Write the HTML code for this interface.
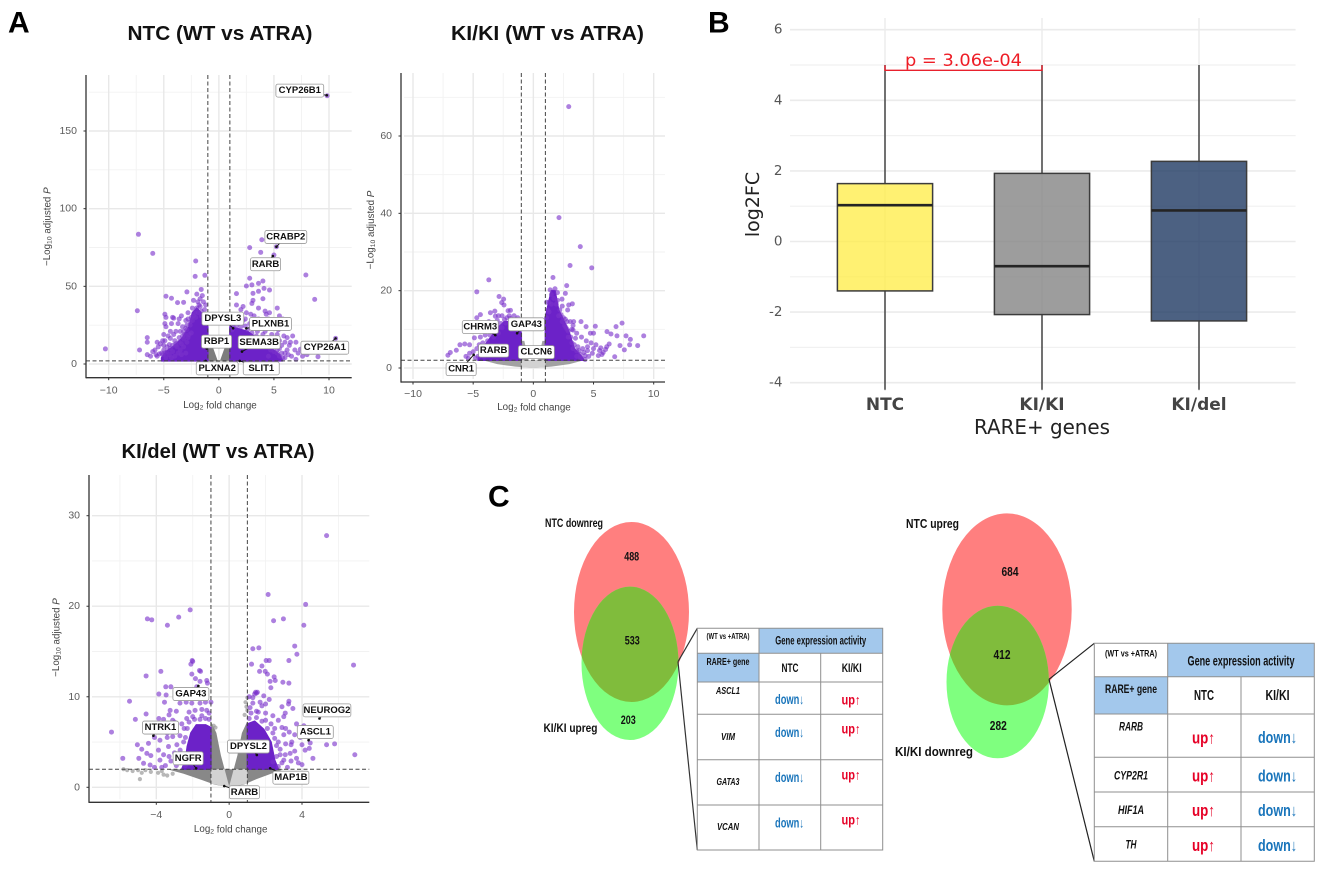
<!DOCTYPE html>
<html lang="en">
<head>
<meta charset="utf-8">
<title>RARE+ gene expression figure</title>
<style>
html,body{margin:0;padding:0;background:#fff;}
svg{display:block;font-family:"Liberation Sans",Arial,sans-serif;filter:blur(0.35px);}
text{dominant-baseline:central;}
.th{font-weight:bold;fill:#111;text-anchor:middle;}
.gene{font-weight:bold;font-style:italic;fill:#111;text-anchor:middle;}
.dn{font-weight:bold;fill:#1a75bb;text-anchor:middle;}
.up{font-weight:bold;fill:#e60026;text-anchor:middle;}
.vn{font-weight:bold;fill:#111;text-anchor:middle;}
.cellline{stroke:#8f8f8f;stroke-width:1;fill:none;}
</style>
</head>
<body>
<svg id="figure" xmlns="http://www.w3.org/2000/svg" width="1325" height="870" viewBox="0 0 1325 870">
  <defs>
    <clipPath id="clip-left-red"><ellipse cx="631.5" cy="612" rx="57.5" ry="90"/></clipPath>
    <clipPath id="clip-right-red"><ellipse cx="1007" cy="609.4" rx="64.7" ry="96"/></clipPath>
  </defs>
  <rect x="0" y="0" width="1325" height="870" fill="#fff"/>

  <text x="8" y="23" font-size="30" font-weight="bold" fill="#000">A</text>
  <text x="708" y="23" font-size="30" font-weight="bold" fill="#000">B</text>
  <text x="488" y="497" font-size="30" font-weight="bold" fill="#000">C</text>

  <text x="220" y="34" font-size="20" font-weight="bold" text-anchor="middle" fill="#111" textLength="185" lengthAdjust="spacingAndGlyphs">NTC (WT vs ATRA)</text>
  <text x="547.5" y="34" font-size="20" font-weight="bold" text-anchor="middle" fill="#111" textLength="193" lengthAdjust="spacingAndGlyphs">KI/KI (WT vs ATRA)</text>
  <text x="218" y="452" font-size="20" font-weight="bold" text-anchor="middle" fill="#111" textLength="193" lengthAdjust="spacingAndGlyphs">KI/del (WT vs ATRA)</text>

  <g id="volcano-ntc"></g>
  <g id="volcano-kiki"></g>
  <g id="volcano-kidel"></g>
  <g id="boxplot"></g>

  <!-- Left Venn -->
  <g>
    <ellipse cx="631.5" cy="612" rx="57.5" ry="90" fill="#ff7f7f"/>
    <ellipse cx="630" cy="663.3" rx="48.5" ry="76.7" fill="#7fff7f"/>
    <ellipse cx="630" cy="663.3" rx="48.5" ry="76.7" fill="#80bc3c" clip-path="url(#clip-left-red)"/>
    <text x="574" y="523" font-size="12" class="vn" textLength="58" lengthAdjust="spacingAndGlyphs">NTC downreg</text>
    <text x="570.5" y="728" font-size="12" class="vn" textLength="54" lengthAdjust="spacingAndGlyphs">KI/KI upreg</text>
    <text x="631.7" y="556.7" font-size="12" class="vn" textLength="15" lengthAdjust="spacingAndGlyphs">488</text>
    <text x="632.3" y="640.7" font-size="12" class="vn" textLength="15" lengthAdjust="spacingAndGlyphs">533</text>
    <text x="628.3" y="720" font-size="12" class="vn" textLength="15" lengthAdjust="spacingAndGlyphs">203</text>
  </g>
  <path d="M678 661.7 L697.3 628.3 M678 661.7 L697.3 850" stroke="#333" stroke-width="1.2" fill="none"/>

  <!-- Left table -->
  <g>
    <rect x="759" y="628.3" width="123.7" height="25" fill="#a3c8ec"/>
    <rect x="697.3" y="653.3" width="61.7" height="28.7" fill="#a3c8ec"/>
    <path class="cellline" d="M697.3 628.3H882.7V850H697.3ZM697.3 653.3H882.7M697.3 682H882.7M697.3 714.3H882.7M697.3 759.7H882.7M697.3 805H882.7M759 628.3V850M820.7 653.3V850"/>
    <text x="728" y="636.7" font-size="8" class="th" textLength="43" lengthAdjust="spacingAndGlyphs">(WT vs +ATRA)</text>
    <text x="820.7" y="641.3" font-size="11.5" class="th" textLength="91" lengthAdjust="spacingAndGlyphs">Gene expression activity</text>
    <text x="728" y="662.7" font-size="10" class="th" textLength="43" lengthAdjust="spacingAndGlyphs">RARE+ gene</text>
    <text x="790" y="668" font-size="12" class="th" textLength="17" lengthAdjust="spacingAndGlyphs">NTC</text>
    <text x="851.7" y="668" font-size="12" class="th" textLength="20" lengthAdjust="spacingAndGlyphs">KI/KI</text>

    <text x="728" y="691.3" font-size="10" class="gene" textLength="24" lengthAdjust="spacingAndGlyphs">ASCL1</text>
    <text x="789.5" y="699.3" font-size="13.5" class="dn" textLength="29" lengthAdjust="spacingAndGlyphs">down↓</text>
    <text x="851" y="700" font-size="13.5" class="up" textLength="19" lengthAdjust="spacingAndGlyphs">up↑</text>
    <text x="728" y="737.3" font-size="10" class="gene" textLength="14" lengthAdjust="spacingAndGlyphs">VIM</text>
    <text x="789.5" y="732.3" font-size="13.5" class="dn" textLength="29" lengthAdjust="spacingAndGlyphs">down↓</text>
    <text x="851" y="729" font-size="13.5" class="up" textLength="19" lengthAdjust="spacingAndGlyphs">up↑</text>
    <text x="728" y="782.7" font-size="10" class="gene" textLength="23" lengthAdjust="spacingAndGlyphs">GATA3</text>
    <text x="789.5" y="777.7" font-size="13.5" class="dn" textLength="29" lengthAdjust="spacingAndGlyphs">down↓</text>
    <text x="851" y="775" font-size="13.5" class="up" textLength="19" lengthAdjust="spacingAndGlyphs">up↑</text>
    <text x="728" y="827.7" font-size="10" class="gene" textLength="22" lengthAdjust="spacingAndGlyphs">VCAN</text>
    <text x="789.5" y="823" font-size="13.5" class="dn" textLength="29" lengthAdjust="spacingAndGlyphs">down↓</text>
    <text x="851" y="820" font-size="13.5" class="up" textLength="19" lengthAdjust="spacingAndGlyphs">up↑</text>
  </g>

  <!-- Right Venn -->
  <g>
    <ellipse cx="1007" cy="609.4" rx="64.7" ry="96" fill="#ff7f7f"/>
    <ellipse cx="997.7" cy="682" rx="51.2" ry="76.3" fill="#7fff7f"/>
    <ellipse cx="997.7" cy="682" rx="51.2" ry="76.3" fill="#80bc3c" clip-path="url(#clip-right-red)"/>
    <text x="932.5" y="523.3" font-size="13" class="vn" textLength="53" lengthAdjust="spacingAndGlyphs">NTC upreg</text>
    <text x="934" y="751.7" font-size="13" class="vn" textLength="78" lengthAdjust="spacingAndGlyphs">KI/KI downreg</text>
    <text x="1010" y="571.3" font-size="13" class="vn" textLength="17" lengthAdjust="spacingAndGlyphs">684</text>
    <text x="1002" y="654.3" font-size="13" class="vn" textLength="17" lengthAdjust="spacingAndGlyphs">412</text>
    <text x="998.3" y="725.7" font-size="13" class="vn" textLength="17" lengthAdjust="spacingAndGlyphs">282</text>
  </g>
  <path d="M1049 679.3 L1094.3 643.3 M1049 679.3 L1094.3 861.3" stroke="#222" stroke-width="1.2" fill="none"/>

  <!-- Right table -->
  <g>
    <rect x="1167.7" y="643.3" width="146.6" height="33.4" fill="#a3c8ec"/>
    <rect x="1094.3" y="676.7" width="73.4" height="37.3" fill="#a3c8ec"/>
    <path class="cellline" d="M1094.3 643.3H1314.3V861.3H1094.3ZM1094.3 676.7H1314.3M1094.3 714H1314.3M1094.3 757.3H1314.3M1094.3 792H1314.3M1094.3 826.7H1314.3M1167.7 643.3V861.3M1241 676.7V861.3"/>
    <text x="1131" y="654" font-size="9.5" class="th" textLength="52" lengthAdjust="spacingAndGlyphs">(WT vs +ATRA)</text>
    <text x="1241" y="660.7" font-size="14" class="th" textLength="107" lengthAdjust="spacingAndGlyphs">Gene expression activity</text>
    <text x="1131" y="689" font-size="12" class="th" textLength="52" lengthAdjust="spacingAndGlyphs">RARE+ gene</text>
    <text x="1204" y="696" font-size="14.5" class="th" textLength="20" lengthAdjust="spacingAndGlyphs">NTC</text>
    <text x="1277.5" y="696" font-size="14.5" class="th" textLength="24" lengthAdjust="spacingAndGlyphs">KI/KI</text>

    <text x="1131" y="726.3" font-size="12" class="gene" textLength="24" lengthAdjust="spacingAndGlyphs">RARB</text>
    <text x="1203.5" y="738.3" font-size="16.5" class="up" textLength="23" lengthAdjust="spacingAndGlyphs">up↑</text>
    <text x="1277.5" y="738" font-size="16.5" class="dn" textLength="39" lengthAdjust="spacingAndGlyphs">down↓</text>
    <text x="1131" y="775.3" font-size="12" class="gene" textLength="34" lengthAdjust="spacingAndGlyphs">CYP2R1</text>
    <text x="1203.5" y="776.7" font-size="16.5" class="up" textLength="23" lengthAdjust="spacingAndGlyphs">up↑</text>
    <text x="1277.5" y="776.7" font-size="16.5" class="dn" textLength="39" lengthAdjust="spacingAndGlyphs">down↓</text>
    <text x="1131" y="810" font-size="12" class="gene" textLength="26" lengthAdjust="spacingAndGlyphs">HIF1A</text>
    <text x="1203.5" y="811" font-size="16.5" class="up" textLength="23" lengthAdjust="spacingAndGlyphs">up↑</text>
    <text x="1277.5" y="811" font-size="16.5" class="dn" textLength="39" lengthAdjust="spacingAndGlyphs">down↓</text>
    <text x="1131" y="844.3" font-size="12" class="gene" textLength="11" lengthAdjust="spacingAndGlyphs">TH</text>
    <text x="1203.5" y="846" font-size="16.5" class="up" textLength="23" lengthAdjust="spacingAndGlyphs">up↑</text>
    <text x="1277.5" y="846" font-size="16.5" class="dn" textLength="39" lengthAdjust="spacingAndGlyphs">down↓</text>
  </g>
</svg>

<script>
/* ---------- NTC volcano data (log2FC, -log10 padj) ---------- */
const ntcXTicks = [-10, -5, 0, 5, 10];
const ntcYTicks = [0, 50, 100, 150];
const ntcPoints = [
[-7.3,83.5],[-6,71.2],[-7.4,34.3],[-10.3,9.7],[-2.1,66.3],[-2.15,56.4],[-1.27,57.1],[-2.9,46.4],[-4.8,43.6],[-4.3,42.3],[-3.75,39.5],[-3.2,39.7],
[-4.9,32],[-4.8,30],[-4.2,30],[-4.1,29.5],[-3.6,29],[-3,28],[-2.8,29],[-4.9,26],[-4.8,24],[-4.3,26],[-3.7,26],[-3.3,24],[-3,23],[-3.5,21],[-3.2,21],[-2.9,22],
[-5,19],[-4.6,18],[-4.4,16.5],[-4,15],[-3.6,17],[-3.2,16],[-6.5,17],[-6.5,14],[-7.2,9],[-6.5,6],[-6,8],[-5.8,9],[-5.5,11],[-5.3,13],[-5,12],[-5,9],[-4.7,11],[-4.4,10],[-4.2,8],[-4.9,7],[-4.5,6],[-4,5],[-3.8,11],[-3.5,9],[-3.2,11],[-3,7],
[-5.6,5],[-5.2,7],[-4.8,4],[-4.3,4],[-3.7,7],[-3.4,6],[-3.9,13],[-3.4,13],[-2.9,14],[-2.8,17],[-2.5,20],[-2.7,19],[-2.4,28],[-2.2,33],[-2,36],[-1.9,40],[-1.7,42],[-1.6,48],[-1.5,44],[-1.8,38],[-1.3,35],[-1.1,32],[-2.3,41],[-1.7,37],[-2.1,30],[-2.6,25],[-1.6,31],[-2,45],[-1.4,40],
[-1.2,26],[-1.4,28],[-1.6,34],[-1.9,33],[-2.3,31],[-2.5,30],[-2.6,27],[-2.9,25],[-3.1,19],[-3.3,18],[-3.6,14],[-3.9,12],[-4.2,12],[-4.5,12.5],[-4.7,8],[-5.1,6],[-5.4,6.5],[-5.7,6],[-6.2,5],[-4.1,19],[-3.9,21],[-4.4,21],[-2.4,36],[-1.2,38],[-2.8,33],[-3.4,31],[-5.1,15],[-5.6,14],[-4.9,15],
[9.83,172.7],[3.9,80],[5.23,75.5],[2.8,74.9],[3.8,71.9],[5,70.2],[7.9,57.3],[2.8,55.2],[2.5,50.2],[3,50.9],[3.6,51.9],[4,53.4],[4.1,48.7],[4.6,47.6],[1.6,45.3],[3.1,45.5],[3.6,46.8],[8.7,41.6],[10.6,16.5],[9,4.7],
[1.2,25],[1.5,31],[1.6,38],[2,35],[2.2,37],[2.5,33],[3,39],[3.1,41],[3.6,36],[4,42],[4.2,34],[4.3,32],[4.6,33],[5.3,36],[5.5,31],[5.8,29],[6,25],[4.9,28],[5.1,25],[4.6,26],[3.6,29],[3.2,31],[2.8,26],[6.2,17],[6.7,18],[5.9,18],[5.3,19],[4.8,19],[4.2,21],[4,17],[5,16],[5.5,15],[6,14],[5.5,10],[6.2,9],[6.6,5],[6.9,9],[7.4,9.5],[7,3],[8,6],[8.7,9],[5,8],[4.5,5],[5.5,5],[6,4],
[1.4,27],[1.8,26],[2.4,29],[2.9,32],[3.3,24],[3.8,23],[4.4,23],[2.6,22],[3,20],[3.4,18],[3.7,16],[4.4,14],[4.8,12],[5.2,11],[5.7,7],[5.3,7],[4.7,9],[6.4,12],[7,14],
[1.3,24],[1.6,24.5],[2,24],[2.4,24.5],[2.9,23.5],[3.5,21],[4,19],[4.4,17],[4.6,15],[5.2,12],[5.7,12],[5.3,9],[6,7],[5.8,4],[6.3,6],[1.2,22],[2.2,28],[1.8,31],[3.4,27],[3.9,27],[4.5,29],[5.4,22],[6.5,14],[7.2,7],[7.6,5]
];
const ntcCloudLeft = [[-1,2],[-1,24],[-1.5,32],[-2,36],[-2.4,33],[-2.7,24],[-3.3,17],[-4,12],[-4.8,8],[-5.2,4],[-5.2,2]];
const ntcCloudRight = [[1,2],[1,24],[1.6,23],[2.6,21],[3.6,16],[4.6,11],[5.5,6],[5.8,2]];
const ntcGreyLeft = [[-1,10],[-0.5,10],[-0.1,2],[-1,2]];
const ntcGreyRight = [[1,10],[0.5,10],[0.1,2],[1,2]];
/* name, label x, label y, target x, target y */
const ntcLabels = [
["CYP26B1",7.35,176,9.8,173],["CRABP2",6.08,81.8,5.23,75.5],["RARB",4.24,64.2,4.9,69.5],["DPYSL3",0.36,29.2,1.3,23],["PLXNB1",4.69,25.8,2.5,23],
["RBP1",-0.21,14.4,-1.1,10],["SEMA3B",3.66,14,2.1,8],["CYP26A1",9.62,10.5,10.6,16.5],["PLXNA2",-0.15,-2.8,-1.2,2],["SLIT1",3.85,-2.8,1.9,2]
];

/* ---------- KI/KI volcano data ---------- */
const kikiXTicks = [-10, -5, 0, 5, 10];
const kikiYTicks = [0, 20, 40, 60];
const kikiPoints = [
[2.94,67.6],[2.13,38.9],[3.9,31.4],[3.05,26.5],[4.85,25.9],[-3.7,22.8],[-4.7,19.7],[1.63,23.4],[2.77,21.3],[-2.85,18.5],[-2.47,17.8],[-2.63,16.9],[-2.44,16.3],[2.66,19.3],[2.38,17.8],[2.94,16.3],[3.24,16.6],[2.85,15],[-4.4,13.8],[-3.57,14.3],[-3.16,13.4],
[9.17,8.3],[7.37,11.6],[6.87,10.7],[6.12,9.4],[6.45,8.8],[6.95,8.3],[7.7,8.3],[8.06,7.4],[8,6],[8.67,5.8],[7.56,4.7],[7.2,5.8],[6.76,2.9],[5.15,10.8],[4.38,10.7],[3.96,12],[3.35,12],[3.07,12],[2.66,12.6],[4.74,9],[5,9],[4,8],[3.3,9.8],[3.5,7.7],
[5,5],[5.5,4.5],[6,4.8],[5.8,4],[5.2,6],[4.8,6.5],[4.4,7],[4.5,5.5],[4.2,4],[3.9,3.5],[4,2.5],[4.6,3],[4.9,3.8],[5.4,3.2],[6.1,5.5],[6.3,6.2],[5.6,5.2],[5.7,3.5],[4.3,3.2],[3.7,5.5],[3.4,6],[3.1,8],[2.9,9.5],[2.7,10.5],[2.5,13],[2.2,15],[1.9,16.5],[1.7,18],[1.5,19],[1.4,20.2],[1.8,20.5],[2,19.5],[1.3,17],[1.2,15],
[1.1,13],[1.3,14.5],[1.5,16.5],[1.1,17],[2.3,13.8],[2.4,12],[2.6,11],[2.8,10],[2.9,8],[3.2,6.5],[3.3,5],[3.6,4.4],[3.8,4.5],[3.6,3],[3.9,2.6],[4.1,5],[4.5,4.5],[3.2,10],[3.6,9],[2.8,12],[3.3,11],[2.4,16],[2,17.5],[2.1,13.5],[4.3,2.2],
[-7.1,3.3],[-6.9,4],[-6.4,4.6],[-6.1,6],[-5.7,6.2],[-5.3,6],[-4.9,7.8],[-5.6,3],[-5.4,2.5],[-5.3,3.8],[-5,4.2],[-4.7,5],[-4.5,6],[-4.4,8],[-4.2,9.5],[-4,8.5],[-3.8,7],[-4.2,4.5],[-4.1,3],[-3.7,12],[-3.4,11.5],[-3,12.3],[-2.7,11.5],[-2.4,12.5],[-2.2,13],[-2,13.5],[-2.1,14.8],[-1.9,14.9],[-1.6,13.5],[-1.4,12.5],[-3.6,10],[-3.2,9.5],[-3,10.5],[-2.6,13.5],[-1.2,11.5],
[-1.1,12],[-1.3,13],[-1.6,12],[-1.9,12.8],[-2.3,11.6],[-2.8,10.5],[-3.1,11],[-3.3,8],[-3.6,8.5],[-3.9,5.5],[-4.4,3.3],[-4.6,3],[-4.8,2.6],[-3.5,5],[-2.9,9],[-2.6,10.4],[-4.2,6.5],[-3.9,10],[-4.7,13],[-3.2,14.7],[-2.9,13.5]
];
const kikiCloudLeft = [[-1,2],[-1,9],[-1.2,11],[-1.8,12],[-2.4,12],[-2.9,10.5],[-3.4,8.5],[-4,6],[-4.5,3],[-4.6,2]];
const kikiCloudRight = [[1,2],[1,13],[1.2,16],[1.5,20],[1.8,20],[2.1,15],[2.5,12.5],[3,9],[3.4,5],[4,3],[4.2,2]];
const kikiGreyLeft = [[-1,7],[-0.75,7],[-0.4,2],[-1,2]];
const kikiGreyRight = [[1,7],[0.75,7],[0.4,2],[1,2]];
const kikiGreyLow = [[-4.2,2],[4.2,2],[3,1],[1.5,0.35],[0,0],[-1.5,0.35],[-3,1]];
const kikiLightLow = [[-1,2],[1,2],[1,0.2],[0,0],[-1,0.2]];
const kikiLabels = [
["CHRM3",-4.41,10.6,-3.16,8.5],["GAP43",-0.58,11.3,-1.35,9],["RARB",-3.3,4.5,-3.3,4.5],["CLCN6",0.25,4.1,0.25,4.1],["CNR1",-6,-0.3,-4.96,3.4]
];

/* ---------- KI/del volcano data ---------- */
const kidelXTicks = [-4, 0, 4];
const kidelYTicks = [0, 10, 20, 30];
const kidelPoints = [
[5.35,27.8],[2.14,21.3],[4.2,20.2],[-2.14,19.6],[-2.77,18.8],[-4.49,18.6],[-4.25,18.5],[-3.39,17.9],[2.44,18.4],[2.98,18.6],[4.1,17.9],[1.3,15.3],[1.63,15.4],[3.6,15.6],[3.72,14.7],[3.28,14],[2.03,14],[2.2,14],[-2.03,14],[-2,13.9],[-2.1,13.6],[1.23,13.6],[1.8,13.4],[6.83,13.5],[-3.75,12.8],[-1.63,12.9],[-1.57,12.8],[-2.05,12.5],[1.67,12.8],[1.98,12.8],[2.1,12.5],[2.47,12.2],[2.53,11.8],[2.25,11.7],[2.29,11],[2.95,11.6],[3.28,11.5],[-4.56,12.3],[-1.85,12],[-1.23,11.8],[-1.19,11.5],[-1.6,11.7],[-1.78,11.1],[-3.48,11.1],[-3.2,11.1],[-3.86,10.3],[-3.46,10.2],[-3.55,9.4],[-5.47,9.5],[-1,9.4],[-4.56,8.1],[-5.15,7.5],[-3.86,7.6],[-3.6,7.5],[-6.46,6.1],[-5.84,3.2],
[1.45,10.5],[1.5,10.4],[1.55,10.5],[1.4,10.3],[1.9,10.1],[2.2,9.7],[1.7,9.4],[1.3,9.3],[1.15,8.8],[1.5,8.4],[2,8.2],[2.4,7.9],[2.7,7.4],[3.28,9.5],[3.26,9.2],[2.9,8.9],[3.08,8.2],[3.7,7],[6.9,3.6],[5.79,4.8],[5.35,4.7],[4.6,3.2],[4.45,4.9],[4.17,4.1],[4,4.7],[3.44,5],[3.4,4.7],[3.35,3.75],[3.08,3.6],[3.7,3.2],[4,2.5],[4.4,4.3],[3.1,6.5],[3,5.8],[2.7,5],[2.8,4.2],[2.6,3.4],[2.9,2.7],[3.4,2.9],[4.1,6.8],[3.9,5.5],[4.5,6.5],
[1.1,7.6],[1.2,8.2],[1.5,7.7],[1.8,7.3],[2.1,6.5],[2.4,6],[2.5,5.4],[2.6,4.6],[2.8,3.6],[3,3],[3.2,2.2],[2.7,2.3],[2.4,2.8],[2,7.4],[2.3,7],[2.5,6.5],[1.3,9.9],[1.8,9],[2,9.2],[1.1,10],[1.6,8.3],[3.1,4.8],[3.3,6.1],[3.6,5.8],[2.9,6.6],[3.5,8.7],[3,7.8],[3.6,4],[3.8,2.7],
[-5.04,4.7],[-4.8,4.2],[-4.43,4.85],[-4.52,3.75],[-4.96,3.2],[-4.7,2.65],[-4.34,2.46],[-3.8,3],[-3.88,4.1],[-3.33,4.5],[-2.87,4.7],[-2.69,4.1],[-3.24,8.5],[-2.9,8.4],[-2.7,9.3],[-2.36,9.4],[-2.05,9.3],[-1.87,8.5],[-1.5,8.6],[-1.23,8.5],[-2.33,7.6],[-2.6,7],[-2.47,6.5],[-3.4,6],[-3.1,5.6],[-3.6,3.6],[-3.2,2.9],[-3.5,2.4],[-2.9,3.3],[-3,7.2],[-1.7,9.9],[-1.35,9.9],[-2,10.3],[-2.9,2.4],
[-1.1,7.5],[-1.3,7.6],[-1.5,7.9],[-1.9,7.5],[-2.2,7.2],[-2.3,6.5],[-2.4,5.5],[-2.5,5],[-2.7,5.7],[-2.6,3.6],[-2.8,2.8],[-2.4,2.4],[-3,3.8],[-3.3,3.4],[-3.4,5.5],[-3.7,6.6],[-2.2,8.3],[-2,7.8],[-1.6,7.5],[-1.1,8.2],[-1.3,9.4],[-1.6,9.3],[-1.9,9.8],[-2.9,6.1],[-3.1,7.4],[-3.3,8],[-3.8,5.2],[-4.1,5.5],[-4.3,3.5],[-4.1,2.2],[-3.7,2.2]
];
const kidelGreyDots = [[-5.8,2],[-5.6,1.9],[-5.3,1.8],[-5,1.9],[-4.9,0.9],[-4.8,1.6],[-4.3,1.7],[-3.9,1.6],[-3.6,1.4],[-3.4,1.3],[-3.1,1.5],[-3.7,1.8],[-4.6,1.9],[-1,6.5],[-0.85,6.8],[-0.75,6.6],[1,9.9],[0.9,9.4],[0.95,8.9],[0.85,8],[1,8.5]];
const kidelCloudLeft = [[-1,2],[-1,6.6],[-1.3,6.9],[-1.8,6.9],[-2.1,6],[-2.3,4.5],[-2.4,3],[-2.6,2]];
const kidelCloudRight = [[1,2],[1,7],[1.4,7.3],[1.9,6.4],[2.3,5],[2.5,3],[2.7,2]];
const kidelGreyLeft = [[-1,7.3],[-0.7,6],[-0.45,3.5],[-0.25,2],[-1,2]];
const kidelGreyRight = [[1,7.3],[0.7,6],[0.45,3.5],[0.25,2],[1,2]];
const kidelGreyLow = [[-3.4,2],[3,2],[2.3,1.5],[1.5,0.9],[0.8,0.3],[0,0],[-0.8,0.3],[-1.5,0.8],[-2.5,1.5]];
const kidelLightLow = [[-1,2],[-0.25,2],[0,0.1],[0.25,2],[1,2],[1,0.4],[0,0],[-1,0.4]];
const kidelLabels = [
["GAP43",-2.1,10.3,-1.69,11.2],["NTRK1",-3.77,6.6,-4.16,5.7],["NGFR",-2.25,3.2,-1.81,2.1],["DPYSL2",1.06,4.5,1.52,3.57],
["NEUROG2",5.37,8.5,4.96,7.6],["ASCL1",4.73,6.1,4.36,5.2],["MAP1B",3.39,1.06,2.25,2.1],["RARB",0.84,-0.55,-0.27,0.14]
];

/* ---------- Box plot data ---------- */
const boxCategories = ["NTC", "KI/KI", "KI/del"];
const boxQ1 = [-1.4, -2.07, -2.25];
const boxMedian = [1.03, -0.7, 0.88];
const boxQ3 = [1.64, 1.93, 2.27];
const boxWhiskerLow = [-4.2, -4.2, -4.2];
const boxWhiskerHigh = [5, 5, 5];
const boxYTicks = [-4, -2, 0, 2, 4, 6];
const boxYMinorTicks = [-3, -1, 1, 3, 5];
const pValueText = "p = 3.06e-04";
const pBracketValue = 4.85;

const NS = "http://www.w3.org/2000/svg";
function make(tag, parent, attrs) {
  const node = document.createElementNS(NS, tag);
  for (const key in attrs) node.setAttribute(key, attrs[key]);
  parent.appendChild(node);
  return node;
}
function pointsString(poly, sx, sy) {
  return poly.map(function (p) { return sx(p[0]) + "," + sy(p[1]); }).join(" ");
}
function linear(d0, d1, r0, r1) {
  return function (v) { return r0 + (v - d0) * (r1 - r0) / (d1 - d0); };
}

function drawVolcano(root, cfg) {
  const sx = linear(cfg.dx[0], cfg.dx[1], cfg.rx[0], cfg.rx[1]);
  const sy = linear(cfg.dy[0], cfg.dy[1], cfg.ry[0], cfg.ry[1]);
  const left = cfg.axisX, bottom = cfg.axisY, right = cfg.right, top = cfg.top;
  const gl = left + 3;

  cfg.xMinor.forEach(function (v) {
    const g = make("line", root, { x1: sx(v), x2: sx(v), y1: top, y2: bottom - 3, stroke: "#f2f2f2", "stroke-width": 0.9 });
    
    
  });
  cfg.yMinor.forEach(function (v) {
    const g = make("line", root, { x1: gl, x2: right, y1: sy(v), y2: sy(v), stroke: "#f2f2f2", "stroke-width": 0.9 });
    
    
  });
  cfg.xTicks.forEach(function (v) {
    const g = make("line", root, { x1: sx(v), x2: sx(v), y1: top, y2: bottom - 3, stroke: "#e8e8e8", "stroke-width": 1.4 });
    
    
  });
  cfg.yTicks.forEach(function (v) {
    const g = make("line", root, { x1: gl, x2: right, y1: sy(v), y2: sy(v), stroke: "#e8e8e8", "stroke-width": 1.4 });
    
    
  });

  cfg.greyPolys.forEach(function (poly) {
    const p = make("polygon", root, { points: pointsString(poly, sx, sy), fill: cfg.greyColor });
    
    
  });
  (cfg.lightTop || []).forEach(function (poly) {
    const p = make("polygon", root, { points: pointsString(poly, sx, sy), fill: "#d2d2d2" });
    
    
  });
  (cfg.greyDots || []).forEach(function (pt) {
    const c = make("circle", root, { cx: sx(pt[0]), cy: sy(pt[1]), r: 2.1, fill: "#9a9a9a", "fill-opacity": 0.7 });
    
    
  });
  cfg.clouds.forEach(function (poly) {
    const p = make("polygon", root, { points: pointsString(poly, sx, sy), fill: "#6c22c8", stroke: "#6c22c8", "stroke-width": 1.5, "stroke-linejoin": "round" });
    
    
  });
  cfg.points.forEach(function (pt) {
    const c = make("circle", root, { cx: sx(pt[0]), cy: sy(pt[1]), r: 2.5, fill: "#7a32cc", "fill-opacity": 0.62 });
    
    
  });

  [-1, 1].forEach(function (v) {
    const l = make("line", root, { x1: sx(v), x2: sx(v), y1: top, y2: bottom, stroke: "#444", "stroke-width": 1, "stroke-dasharray": "4 2.5" });
    
    
  });
  const h = make("line", root, { x1: left, x2: right, y1: sy(2), y2: sy(2), stroke: "#444", "stroke-width": 1, "stroke-dasharray": "4 2.5" });
  
  

  const yAxis = make("line", root, { x1: left, x2: left, y1: top, y2: bottom + 0.6, stroke: "#333", "stroke-width": 1.3 });
  
  
  const xAxis = make("line", root, { x1: left, x2: right, y1: bottom, y2: bottom, stroke: "#333", "stroke-width": 1.3 });
  
  

  cfg.xTicks.forEach(function (v) {
    const t = make("line", root, { x1: sx(v), x2: sx(v), y1: bottom, y2: bottom + 2.5, stroke: "#333", "stroke-width": 1 });
    
    
    const lab = make("text", root, { x: sx(v), y: cfg.xTickY, "font-size": 10.5, fill: "#5c5c5c", "text-anchor": "middle" });
    lab.textContent = v < 0 ? "\u2212" + (-v) : String(v);
    
    
  });
  cfg.yTicks.forEach(function (v) {
    const t = make("line", root, { x1: left - 2.5, x2: left, y1: sy(v), y2: sy(v), stroke: "#333", "stroke-width": 1 });
    
    
    const lab = make("text", root, { x: left - 9, y: sy(v), "font-size": 10.5, fill: "#5c5c5c", "text-anchor": "end" });
    lab.textContent = String(v);
    
    
  });

  const xt = make("text", root, { x: cfg.xTitle[0], y: cfg.xTitle[1], "font-size": 9.8, fill: "#444", "text-anchor": "middle" });
  
  
  xt.appendChild(document.createTextNode("Log"));
  make("tspan", xt, { dy: 2, "font-size": 6.8 }).textContent = "2";
  make("tspan", xt, { dy: -2 }).textContent = " fold change";

  const yt = make("text", root, { x: 0, y: 0, "font-size": 9.8, fill: "#444", "text-anchor": "middle", transform: "translate(" + cfg.yTitle[0] + "," + cfg.yTitle[1] + ") rotate(-90)" });
  
  
  yt.appendChild(document.createTextNode("\u2212Log"));
  make("tspan", yt, { dy: 2, "font-size": 6.8 }).textContent = "10";
  make("tspan", yt, { dy: -2 }).textContent = " adjusted ";
  make("tspan", yt, { "font-style": "italic" }).textContent = "P";

  cfg.labels.forEach(function (row) {
    const name = row[0], lx = sx(row[1]), ly = sy(row[2]), tx = sx(row[3]), ty = sy(row[4]);
    const w = name.length * 5.9 + 6.5;
    const hh = 13;
    const lead = make("line", root, { x1: lx, y1: ly, x2: tx, y2: ty, stroke: "#111", "stroke-width": 0.9 });
    
    
    const dot = make("circle", root, { cx: tx, cy: ty, r: 1.3, fill: "#111" });
    
    
    const box = make("rect", root, { x: lx - w / 2, y: ly - hh / 2, width: w, height: hh, rx: 2, ry: 2, fill: "#fff", stroke: "#999", "stroke-width": 0.8 });
    
    
    const text = make("text", root, { x: lx, y: ly, "font-size": 9.5, "font-weight": "bold", fill: "#111", "text-anchor": "middle" });
    text.textContent = name;
    
    
  });
}

drawVolcano(document.getElementById("volcano-ntc"), {
  dx: [-10, 10], rx: [108.7, 329], dy: [0, 150], ry: [364, 131],
  axisX: 86, axisY: 377.7, right: 351.7, top: 75,
  xTicks: ntcXTicks, yTicks: ntcYTicks, xMinor: [-7.5, -2.5, 2.5, 7.5], yMinor: [25, 75, 125, 175],
  points: ntcPoints, clouds: [ntcCloudLeft, ntcCloudRight], greyPolys: [ntcGreyLeft, ntcGreyRight], greyColor: "#7d7d7d",
  labels: ntcLabels, xTickY: 390.7, xTitle: [220, 405.5], yTitle: [47.7, 226.7]
});
drawVolcano(document.getElementById("volcano-kiki"), {
  dx: [-10, 10], rx: [413, 653.7], dy: [0, 60], ry: [368, 136],
  axisX: 401, axisY: 382, right: 665, top: 73,
  xTicks: kikiXTicks, yTicks: kikiYTicks, xMinor: [-7.5, -2.5, 2.5, 7.5], yMinor: [10, 30, 50, 70],
  points: kikiPoints, clouds: [kikiCloudLeft, kikiCloudRight], greyPolys: [kikiGreyLow, kikiGreyLeft, kikiGreyRight], greyColor: "#a2a2a2", lightTop: [kikiLightLow],
  labels: kikiLabels, xTickY: 394, xTitle: [534, 407.5], yTitle: [371, 230]
});
drawVolcano(document.getElementById("volcano-kidel"), {
  dx: [-4, 4], rx: [156.3, 302], dy: [0, 30], ry: [787.3, 515.7],
  axisX: 89, axisY: 802.3, right: 369.3, top: 475,
  xTicks: kidelXTicks, yTicks: kidelYTicks, xMinor: [-6, -2, 2, 6], yMinor: [5, 15, 25],
  points: kidelPoints, clouds: [kidelCloudLeft, kidelCloudRight], greyPolys: [kidelGreyLow, kidelGreyLeft, kidelGreyRight], greyColor: "#888888", lightTop: [kidelLightLow], greyDots: kidelGreyDots,
  labels: kidelLabels, xTickY: 815, xTitle: [230.7, 829.5], yTitle: [56.7, 637.5]
});

(function drawBoxplot() {
  const root = document.getElementById("boxplot");
  const sy = linear(-4, 6, 382.7, 29.7);
  const catCenters = boxCategories.map(function (_, i) { return linear(0, 2, 885, 1199)(i); });
  const boxHalf = 47.6;
  const fills = ["#FFEB3B", "#808080", "#1F3A63"];
  const font = '"DejaVu Sans", "Liberation Sans", sans-serif';

  boxYMinorTicks.forEach(function (v) {
    const g = make("line", root, { x1: 790, x2: 1295.6, y1: sy(v), y2: sy(v), stroke: "#f1f1f1", "stroke-width": 1.2 });
    
    
  });
  boxYTicks.forEach(function (v) {
    const g = make("line", root, { x1: 790, x2: 1295.6, y1: sy(v), y2: sy(v), stroke: "#ebebeb", "stroke-width": 1.6 });
    
    
    const lab = make("text", root, { x: 782.5, y: sy(v), "font-size": 13.5, fill: "#555", "text-anchor": "end", "font-family": font });
    lab.textContent = String(v);
    
    
  });
  catCenters.forEach(function (cx, i) {
    const g = make("line", root, { x1: cx, x2: cx, y1: 18, y2: 391, stroke: "#ebebeb", "stroke-width": 1.4 });
    
    
    const upper = make("line", root, { x1: cx, x2: cx, y1: sy(boxWhiskerHigh[i]), y2: sy(boxQ3[i]), stroke: "#444", "stroke-width": 1.5 });
    
    
    const lower = make("line", root, { x1: cx, x2: cx, y1: sy(boxQ1[i]), y2: sy(boxWhiskerLow[i]), stroke: "#444", "stroke-width": 1.5 });
    
    
    const b = make("rect", root, { x: cx - boxHalf, y: sy(boxQ3[i]), width: boxHalf * 2, height: sy(boxQ1[i]) - sy(boxQ3[i]), fill: fills[i], "fill-opacity": i === 0 ? 0.72 : (i === 2 ? 0.8 : 0.77), stroke: "#3c3c3c", "stroke-width": 1.5 });
    
    
    const m = make("line", root, { x1: cx - boxHalf, x2: cx + boxHalf, y1: sy(boxMedian[i]), y2: sy(boxMedian[i]), stroke: "#242424", "stroke-width": 2.6 });
    
    
    const lab = make("text", root, { x: cx, y: 405, "font-size": 17, "font-weight": "bold", fill: "#444", "text-anchor": "middle", "font-family": font });
    lab.textContent = boxCategories[i];
    
    
  });
  const bracket = make("path", root, { d: "M" + catCenters[0] + " " + (sy(pBracketValue) - 5) + "V" + sy(pBracketValue) + "H" + catCenters[1] + "V" + (sy(pBracketValue) - 5), fill: "none", stroke: "#e8212d", "stroke-width": 1.4 });
  
  
  const pText = make("text", root, { x: (catCenters[0] + catCenters[1]) / 2, y: 60.5, "font-size": 16.5, fill: "#ee1c25", "text-anchor": "middle", "font-family": font, textLength: 117, lengthAdjust: "spacingAndGlyphs" });
  pText.textContent = pValueText;
  
  
  const xTitle = make("text", root, { x: catCenters[1], y: 427, "font-size": 20, fill: "#222", "text-anchor": "middle", "font-family": font, textLength: 136, lengthAdjust: "spacingAndGlyphs" });
  xTitle.textContent = "RARE+ genes";
  
  
  const yTitle = make("text", root, { x: 0, y: 0, "font-size": 19, fill: "#222", "text-anchor": "middle", "font-family": font, transform: "translate(753,204.5) rotate(-90)" });
  yTitle.textContent = "log2FC";
  
  
})();
</script>
</body>
</html>
